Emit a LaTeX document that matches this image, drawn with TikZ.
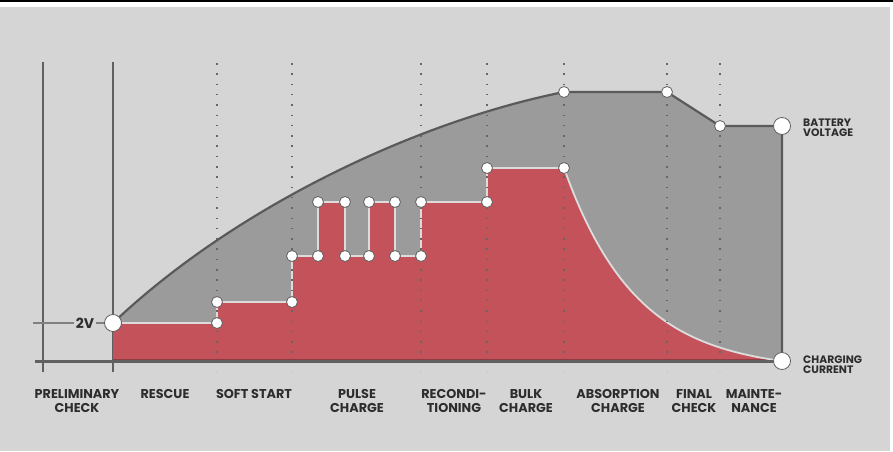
\documentclass[tikz,border=0pt]{standalone}
\usepackage{fontspec}
\setmainfont{Poppins}
\definecolor{bgc}{HTML}{D5D5D5}
\definecolor{garea}{HTML}{9B9B9B}
\definecolor{redc}{HTML}{C4525A}
\definecolor{dred}{HTML}{8E3B41}
\definecolor{vline}{HTML}{5A5A5A}
\definecolor{edgec}{HTML}{DCDCDC}
\definecolor{txt}{HTML}{2D2D2D}
\definecolor{axc}{HTML}{606060}
\definecolor{dotcol}{HTML}{666666}
\begin{document}
\begin{tikzpicture}[x=1pt,y=-1pt,
  dotpt/.style={circle,fill=white,draw=axc,line width=0.8pt,minimum size=11pt,inner sep=0pt},
  bigdot/.style={dotpt,minimum size=17pt},
  stage/.style={anchor=north,inner sep=0pt,align=center,text=txt,font=\bfseries\fontsize{12.8}{14.3}\selectfont},
  side/.style={anchor=north west,inner sep=0pt,align=left,text=txt,font=\bfseries\fontsize{10.8}{10}\selectfont},
  divider/.style={draw=dotcol,line width=1.5pt,dash pattern=on 1.5pt off 8.8pt},
  axis/.style={draw=axc,line width=1.6pt},
]
\useasboundingbox (0,0) rectangle (893,451);
% background
\fill[white] (0,0) rectangle (893,451);
\fill[black] (0,0) rectangle (893,1.7);
\fill[bgc] (0,6.7) rectangle (890,451);

% axes
\draw[axis] (43,62) -- (43,372);
\draw[axis] (113,62) -- (113,372);
\coordinate (v0) at (113,323);
\draw[draw=axc!80,line width=1.2pt] (33,323) -- (v0);

% voltage area
\fill[garea] (113,323) .. controls (233,209) and (414,122) .. (564,92) -- (667,92) -- (720,126) -- (782,126) -- (782,361) -- (113,361) -- cycle;

% current area
\def\currpath{(113,323) -| (217,302) -| (292,256) -| (318,202) -| (345,256) -| (369,202) -| (395,256) -| (421,202) -| (487,168) -- (564,168) -- plot[domain=564:782,samples=80] (\x,{361-193*(exp(-(\x-564)/72)-0.0484)/0.9516})}
\fill[redc] \currpath -- (113,361) -- cycle;
\begin{scope}
\clip \currpath -- (113,361) -- cycle;
\draw[dred,line width=2pt] (113,359.5) -- (782,359.5);
\end{scope}
\draw[edgec,line width=1.8pt,line join=round] \currpath;

% dividers
\foreach \xx in {217,292,421,487,564,667,720}
  \draw[divider] (\xx,63) -- (\xx,372);

% baseline
\draw[draw=axc,line width=2.2pt] (35,361.5) -- (782,361.5);

% voltage line
\draw[vline,line width=2.2pt,line join=round] (113,323) .. controls (233,209) and (414,122) .. (564,92) -- (667,92) -- (720,126) -- (782,126) -- (782,361);

% points
\node[bigdot] (s0) at (113,323) {};
\node[bigdot] (bv) at (782,126) {};
\node[bigdot] (cc) at (782,361) {};
\node[dotpt] (a1) at (217,323) {};
\node[dotpt] (a2) at (217,302) {};
\node[dotpt] (a3) at (292,302) {};
\node[dotpt] (a4) at (292,256) {};
\node[dotpt] (a5) at (318,256) {};
\node[dotpt] (a6) at (318,202) {};
\node[dotpt] (a7) at (345,202) {};
\node[dotpt] (a8) at (345,256) {};
\node[dotpt] (a9) at (369,256) {};
\node[dotpt] (a10) at (369,202) {};
\node[dotpt] (a11) at (395,202) {};
\node[dotpt] (a12) at (395,256) {};
\node[dotpt] (a13) at (421,256) {};
\node[dotpt] (a14) at (421,202) {};
\node[dotpt] (a15) at (487,202) {};
\node[dotpt] (a16) at (487,168) {};
\node[dotpt] (a17) at (564,168) {};
\node[dotpt] (v1) at (564,92) {};
\node[dotpt] (v2) at (667,92) {};
\node[dotpt] (v3) at (720,126) {};

% 2V label
\node[fill=bgc,inner sep=1.5pt,text=txt,font=\bfseries\fontsize{14}{14}\selectfont] (twov) at (85,323.5) {2V};

% stage labels
\node[stage] (l1) at (77,389) {PRELIMINARY\\CHECK};
\node[stage] (l2) at (165,389) {RESCUE};
\node[stage] (l3) at (254,389) {SOFT START};
\node[stage] (l4) at (357,389) {PULSE\\CHARGE};
\node[stage] (l5) at (454,389) {RECONDI-\\TIONING};
\node[stage] (l6) at (526,389) {BULK\\CHARGE};
\node[stage] (l7) at (618,389) {ABSORPTION\\CHARGE};
\node[stage] (l8) at (694,389) {FINAL\\CHECK};
\node[stage] (l9) at (754,389) {MAINTE-\\NANCE};

% side labels
\node[side] (bvl) at (803,118.7) {BATTERY\\VOLTAGE};
\node[side] (ccl) at (803,355.7) {CHARGING\\CURRENT};
\end{tikzpicture}
\end{document}
